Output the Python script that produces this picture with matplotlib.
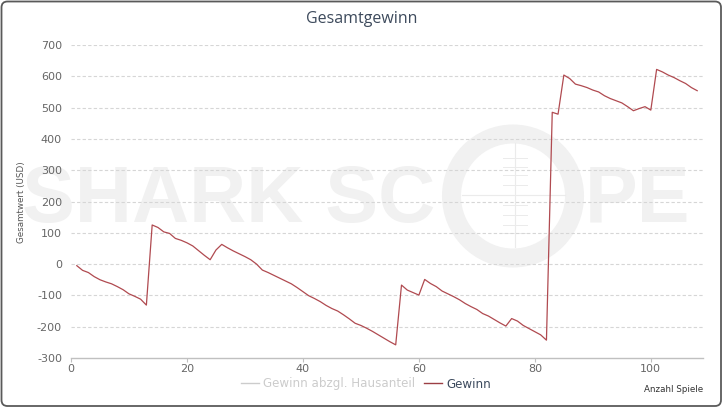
import matplotlib
matplotlib.use("Agg")
import matplotlib.pyplot as plt
from matplotlib.patches import Ellipse, FancyBboxPatch
from matplotlib.lines import Line2D

# ---- data ----
games = list(range(1, 109))
gewinn = [
    -5, -20, -27, -40, -50, -57, -63, -72, -82, -95, -103, -112, -131,   # 1-13
    125, 117, 103, 98, 82, 76, 68, 58, 43, 28, 14, 45, 63,               # 14-26
    52, 42, 33, 24, 14, 0, -19, -27, -36, -45, -54, -63, -75, -88,       # 27-40
    -101, -110, -120, -132, -142, -150, -162, -175, -189, -196,          # 41-50
    -205, -215, -226, -237, -248, -258,                                  # 51-56
    -67, -83, -91, -99, -49, -62, -72, -86, -95, -104,                   # 57-66
    -114, -126, -136, -145, -158, -166, -177, -188, -198, -174,          # 67-76
    -182, -196, -206, -216, -226, -243,                                  # 77-82
    485, 479, 604, 593, 575, 570, 564, 556, 550, 538,                    # 83-92
    529, 522, 515, 503, 490, 497, 503, 492,                              # 93-100
    622, 614, 604, 596, 586, 577, 564, 554,                              # 101-108
]
x_ticks = [0, 20, 40, 60, 80, 100]
y_ticks = [-300, -200, -100, 0, 100, 200, 300, 400, 500, 600, 700]
title = "Gesamtgewinn"
y_title = "Gesamtwert (USD)"
x_title = "Anzahl Spiele"
legend_labels = ["Gewinn abzgl. Hausanteil", "Gewinn"]

W, H = 723, 408
fig = plt.figure(figsize=(W / 100, H / 100), dpi=100)
fig.patch.set_facecolor("white")

# background layer (border + watermark)
bg = fig.add_axes([0, 0, 1, 1], zorder=0)
bg.set_xlim(0, W)
bg.set_ylim(H, 0)
bg.axis("off")
bg.add_patch(FancyBboxPatch((1.5, 1.5), W - 3.5, H - 3.5,
                            boxstyle="round,pad=0,rounding_size=6",
                            ec="#5a5a5a", fc="white", lw=1.3, zorder=0))
wm = "#f1f1f1"
bg.text(22, 222, "SHARK SC", fontsize=57, fontweight="bold",
        family="Liberation Sans", color=wm, ha="left", va="baseline", zorder=1)
bg.text(690, 222, "PE", fontsize=57, fontweight="bold",
        family="Liberation Sans", color=wm, ha="right", va="baseline", zorder=1)
bg.add_patch(Ellipse((513, 196), 123, 124, fill=False, ec=wm, lw=13.7, zorder=1))
bg.plot([462, 565], [195, 195], color="#ebebeb", lw=0.8, zorder=1)
bg.plot([515, 515], [143, 247], color="#ebebeb", lw=0.8, zorder=1)
for yy in [158, 167, 175, 185, 205, 215, 225, 233]:
    bg.plot([503, 527], [yy, yy], color="#ebebeb", lw=0.7, zorder=1)

# main chart
ax = fig.add_axes([71 / W, 1 - 358 / H, 632 / W, 313 / H], zorder=2)
ax.set_facecolor("none")
ax.plot(games, gewinn, color="#b04a50", lw=0.9, zorder=3)
ax.set_xlim(0, 109)
ax.set_ylim(-300, 700)
ax.set_xticks(x_ticks)
ax.set_yticks(y_ticks)
ax.set_yticklabels([str(v) for v in y_ticks])
for v in y_ticks[1:]:
    ax.axhline(v, color="#d6d6d6", lw=0.8, dashes=(3, 2), zorder=1)
for s in ["top", "right", "left"]:
    ax.spines[s].set_visible(False)
ax.spines["bottom"].set_color("#c0c0c0")
ax.spines["bottom"].set_linewidth(1.0)
ax.tick_params(axis="y", length=0, pad=6.5, labelsize=8, labelcolor="#666666")
ax.tick_params(axis="x", length=3, width=0.8, color="#c0c0c0", pad=1.5,
               labelsize=8, labelcolor="#666666")

fig.text(361.5 / W, 1 - 19 / H, title, ha="center", va="center",
         fontsize=11.5, color="#3d4a5c", family="Open Sans")
fig.text(22 / W, 1 - 202 / H, y_title, rotation=90, ha="center", va="center",
         fontsize=6.3, color="#555555")
fig.text(703 / W, 1 - 390 / H, x_title, ha="right", va="center",
         fontsize=6.3, color="#333333")

handles = [Line2D([], [], color="#cccccc", lw=1.0),
           Line2D([], [], color="#9c3f44", lw=1.0)]
leg = fig.legend(handles, legend_labels, ncol=2, frameon=False,
                 loc="center", bbox_to_anchor=(366 / W, 1 - 384 / H),
                 fontsize=8.6, handlelength=1.5, handletextpad=0.4,
                 columnspacing=0.7)
leg.get_texts()[0].set_color("#cccccc")
leg.get_texts()[1].set_color("#3c4a5d")

fig.savefig("out.png", dpi=100)
